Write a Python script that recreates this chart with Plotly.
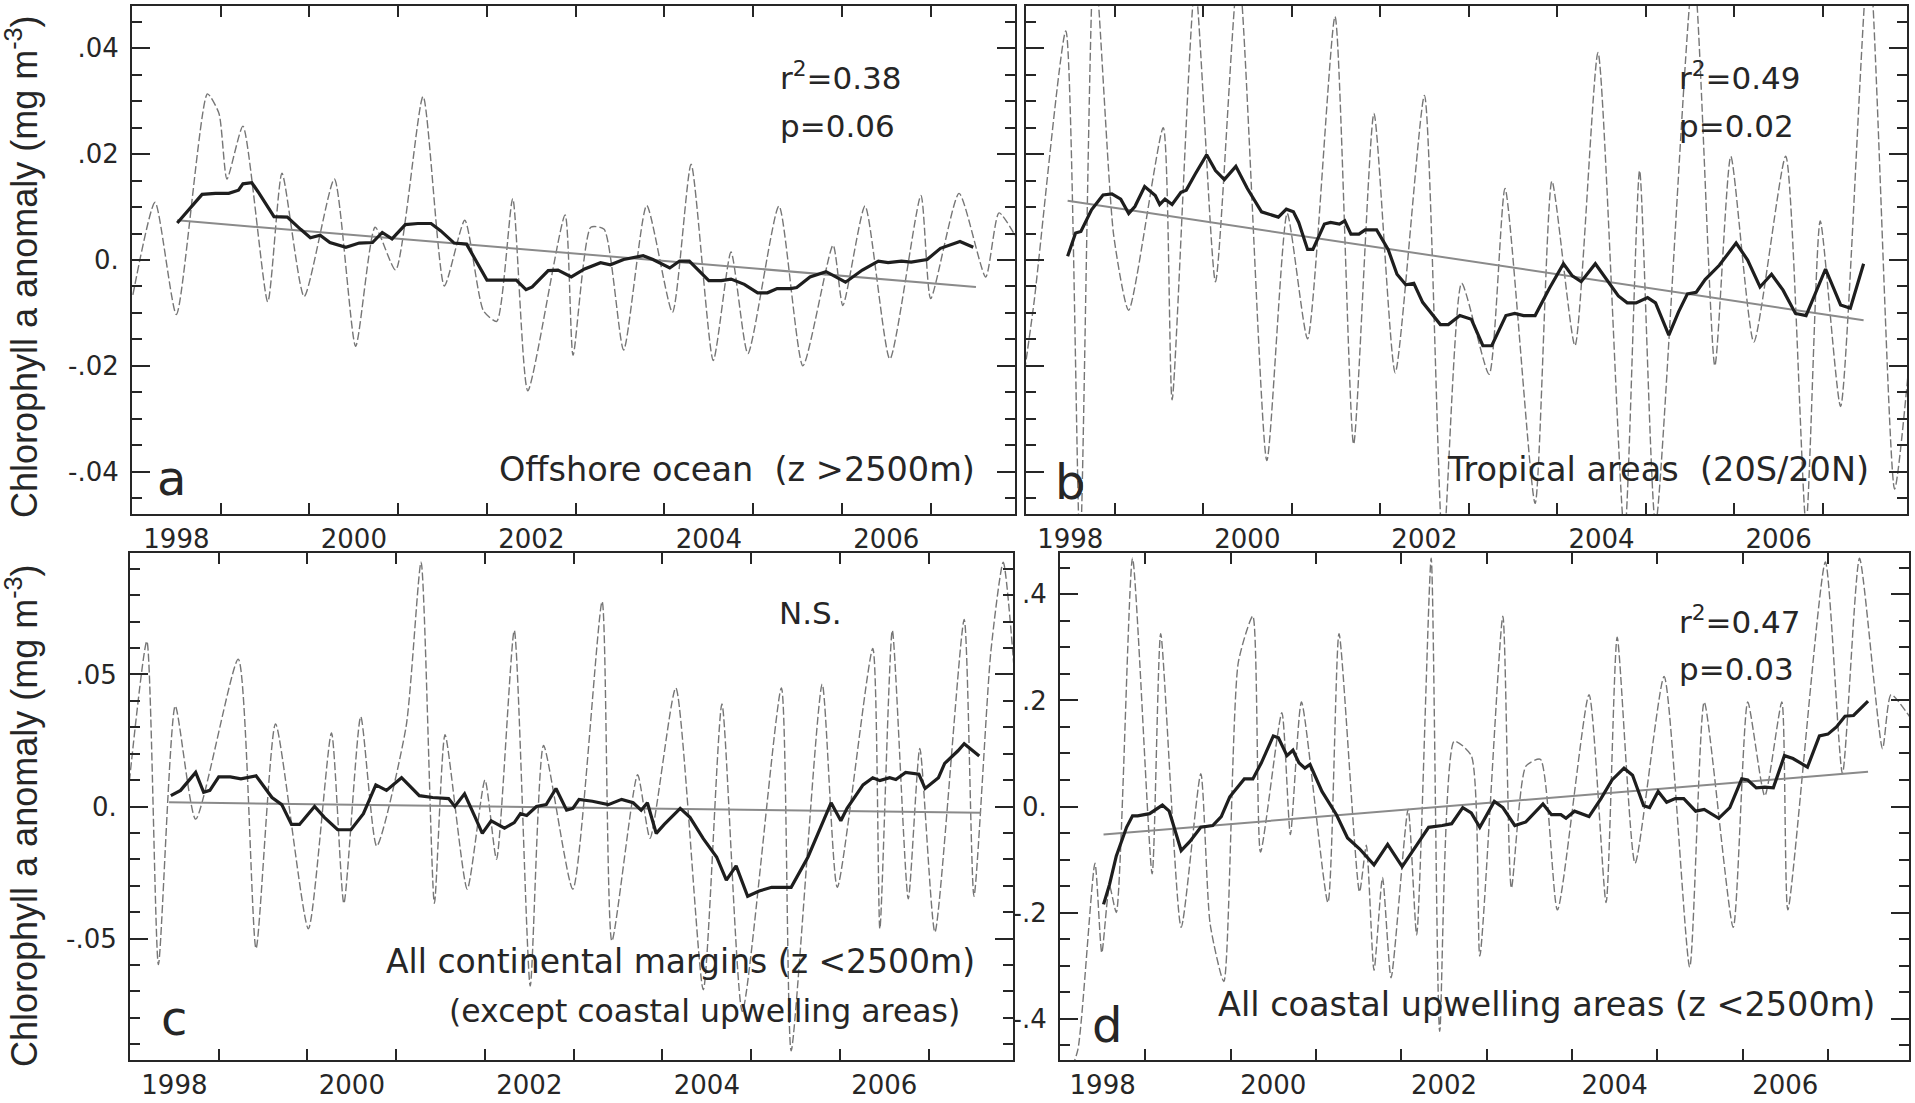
import plotly.graph_objects as go


# ── Panel a: offshore ocean ───────────────────────────────────────────────────

A_RAW_T = [1998.01, 1998.26, 1998.50, 1998.85, 1998.98, 1999.07, 1999.25, 1999.53, 1999.69, 1999.94,
           2000.28, 2000.52, 2000.74, 2000.97, 2001.28, 2001.52, 2001.75, 2001.96, 2002.11, 2002.29,
           2002.46, 2002.88, 2002.97, 2003.17, 2003.32, 2003.54, 2003.80, 2004.09, 2004.30, 2004.55,
           2004.75, 2004.94, 2005.29, 2005.56, 2005.90, 2006.01, 2006.26, 2006.54, 2006.89, 2007.00,
           2007.32, 2007.62, 2007.77, 2007.99]
A_RAW_V = [-0.0066, 0.0109, -0.0103, 0.0314, 0.0277, 0.0153, 0.0253, -0.0079, 0.0164, -0.0069,
           0.0153, -0.0163, 0.0062, -0.0019, 0.0309, -0.0049, 0.0075, -0.0096, -0.0116, 0.0116,
           -0.0247, 0.0085, -0.0180, 0.0062, 0.0058, -0.0170, 0.0103, -0.0099, 0.0181, -0.0190,
           0.0015, -0.0177, 0.0102, -0.0200, 0.0028, -0.0086, 0.0102, -0.0187, 0.0122, -0.0073,
           0.0126, -0.0032, 0.0089, 0.0035]
A_MEAN_T = [1998.51, 1998.79, 1998.94, 1999.09, 1999.20, 1999.25, 1999.35, 1999.42, 1999.60, 1999.75,
            1999.90, 2000.01, 2000.12, 2000.23, 2000.41, 2000.56, 2000.71, 2000.82, 2000.93, 2001.08,
            2001.22, 2001.37, 2001.48, 2001.63, 2001.77, 2002.00, 2002.33, 2002.44, 2002.51, 2002.69,
            2002.80, 2002.95, 2003.10, 2003.28, 2003.39, 2003.54, 2003.76, 2003.87, 2004.06, 2004.17,
            2004.28, 2004.50, 2004.64, 2004.75, 2004.90, 2005.05, 2005.16, 2005.27, 2005.42, 2005.49,
            2005.64, 2005.82, 2005.90, 2006.04, 2006.23, 2006.41, 2006.52, 2006.67, 2006.78, 2006.96,
            2007.11, 2007.33, 2007.48]
A_MEAN_V = [0.0070, 0.0124, 0.0126, 0.0126, 0.0132, 0.0144, 0.0146, 0.0129, 0.0082, 0.0081,
            0.0058, 0.0042, 0.0047, 0.0033, 0.0024, 0.0032, 0.0033, 0.0052, 0.0040, 0.0067,
            0.0069, 0.0069, 0.0055, 0.0032, 0.0030, -0.0038, -0.0038, -0.0056, -0.0051, -0.0020,
            -0.0019, -0.0032, -0.0017, -0.0005, -0.0009, 0.0001, 0.0008, 0.0001, -0.0015, -0.0002,
            -0.0002, -0.0039, -0.0039, -0.0036, -0.0046, -0.0062, -0.0062, -0.0054, -0.0054, -0.0052,
            -0.0032, -0.0022, -0.0029, -0.0042, -0.0019, -0.0002, -0.0005, -0.0002, -0.0004, 0.0001,
            0.0022, 0.0035, 0.0024]
A_TREND_T = [1998.51, 2007.51]
A_TREND_V = [0.0075, -0.0051]

# ── Panel b: tropical areas ───────────────────────────────────────────────────

B_RAW_T = [1997.95, 1998.09, 1998.45, 1998.61, 1998.77, 1998.99, 1999.16, 1999.55, 1999.65, 1999.91,
           2000.14, 2000.40, 2000.72, 2000.95, 2001.18, 2001.49, 2001.70, 2001.93, 2002.17, 2002.50,
           2002.71, 2002.92, 2003.23, 2003.41, 2003.75, 2003.94, 2004.20, 2004.46, 2004.76, 2004.93,
           2005.11, 2005.54, 2005.78, 2005.96, 2006.22, 2006.58, 2006.81, 2006.97, 2007.20, 2007.52,
           2007.81, 2007.98]
B_RAW_V = [-0.0250, -0.0081, 0.0433, -0.0550, 0.0580, 0.0047, -0.0095, 0.0250, -0.0264, 0.0520,
           -0.0041, 0.0550, -0.0379, 0.0088, -0.0149, 0.0460, -0.0348, 0.0277, -0.0213, 0.0311,
           -0.0550, -0.0044, -0.0216, 0.0135, -0.0460, 0.0149, -0.0162, 0.0392, -0.0520, 0.0169,
           -0.0500, 0.0550, -0.0200, 0.0196, -0.0155, 0.0196, -0.0500, 0.0074, -0.0277, 0.0580,
           -0.0433, -0.0183]
B_MEAN_T = [1998.47, 1998.56, 1998.62, 1998.74, 1998.87, 1998.97, 1999.07, 1999.16, 1999.23, 1999.34,
            1999.46, 1999.51, 1999.57, 1999.65, 1999.75, 1999.81, 1999.91, 2000.04, 2000.14, 2000.24,
            2000.37, 2000.50, 2000.66, 2000.79, 2000.85, 2000.94, 2001.02, 2001.08, 2001.18, 2001.24,
            2001.37, 2001.44, 2001.54, 2001.60, 2001.67, 2001.76, 2001.83, 2001.96, 2002.09, 2002.19,
            2002.29, 2002.38, 2002.48, 2002.68, 2002.77, 2002.90, 2003.03, 2003.16, 2003.26, 2003.42,
            2003.52, 2003.62, 2003.75, 2003.91, 2004.07, 2004.17, 2004.27, 2004.43, 2004.56, 2004.69,
            2004.79, 2004.89, 2005.02, 2005.11, 2005.26, 2005.37, 2005.47, 2005.57, 2005.67, 2005.83,
            2006.02, 2006.15, 2006.29, 2006.42, 2006.55, 2006.69, 2006.81, 2007.03, 2007.20, 2007.31,
            2007.46]
B_MEAN_V = [0.0007, 0.0051, 0.0054, 0.0095, 0.0123, 0.0125, 0.0115, 0.0088, 0.0101, 0.0139,
            0.0122, 0.0105, 0.0115, 0.0105, 0.0128, 0.0132, 0.0162, 0.0199, 0.0169, 0.0152,
            0.0177, 0.0135, 0.0091, 0.0085, 0.0081, 0.0096, 0.0091, 0.0071, 0.0020, 0.0020,
            0.0068, 0.0071, 0.0068, 0.0074, 0.0049, 0.0049, 0.0057, 0.0057, 0.0020, -0.0027,
            -0.0047, -0.0044, -0.0080, -0.0122, -0.0122, -0.0105, -0.0112, -0.0162, -0.0162, -0.0105,
            -0.0101, -0.0105, -0.0105, -0.0054, -0.0007, -0.0030, -0.0041, -0.0007, -0.0037, -0.0068,
            -0.0081, -0.0081, -0.0071, -0.0081, -0.0142, -0.0098, -0.0064, -0.0061, -0.0037, -0.0010,
            0.0032, 0.0000, -0.0051, -0.0027, -0.0057, -0.0101, -0.0105, -0.0017, -0.0085, -0.0091,
            -0.0007]
B_TREND_T = [1998.47, 2007.46]
B_TREND_V = [0.0112, -0.0114]

# ── Panel c: continental margins ──────────────────────────────────────────────

C_RAW_T = [1997.98, 1998.19, 1998.32, 1998.51, 1998.74, 1999.22, 1999.42, 1999.64, 2000.01, 2000.27,
           2000.41, 2000.60, 2000.78, 2001.11, 2001.28, 2001.43, 2001.55, 2001.80, 2002.00, 2002.13,
           2002.33, 2002.51, 2002.66, 2002.99, 2003.32, 2003.43, 2003.72, 2003.86, 2004.15, 2004.46,
           2004.67, 2004.90, 2005.34, 2005.45, 2005.80, 2005.97, 2006.37, 2006.45, 2006.59, 2006.77,
           2006.90, 2007.07, 2007.40, 2007.51, 2007.70, 2007.84, 2007.99]
C_RAW_V = [0.0054, 0.0626, -0.0599, 0.0381, -0.0048, 0.0558, -0.0538, 0.0313, -0.0463, 0.0279,
           -0.0367, 0.0340, -0.0150, 0.0300, 0.0925, -0.0367, 0.0272, -0.0313, 0.0100, -0.0200,
           0.0667, -0.0680, 0.0231, -0.0313, 0.0776, -0.0510, 0.0120, -0.0120, 0.0449, -0.0694,
           0.0388, -0.0776, 0.0449, -0.0925, 0.0463, -0.0306, 0.0599, -0.0463, 0.0667, -0.0350,
           0.0220, -0.0476, 0.0708, -0.0340, 0.0585, 0.0925, 0.0400]
C_MEAN_T = [1998.46, 1998.57, 1998.74, 1998.83, 1998.90, 1999.00, 1999.13, 1999.25, 1999.42, 1999.60,
            1999.71, 1999.82, 1999.91, 2000.08, 2000.19, 2000.34, 2000.49, 2000.63, 2000.77, 2000.89,
            2001.06, 2001.26, 2001.41, 2001.59, 2001.66, 2001.77, 2001.89, 2001.97, 2002.07, 2002.22,
            2002.33, 2002.40, 2002.47, 2002.58, 2002.69, 2002.80, 2002.92, 2002.99, 2003.06, 2003.21,
            2003.39, 2003.54, 2003.67, 2003.76, 2003.83, 2003.93, 2004.02, 2004.20, 2004.31, 2004.46,
            2004.61, 2004.72, 2004.83, 2004.96, 2005.09, 2005.23, 2005.45, 2005.64, 2005.90, 2006.01,
            2006.08, 2006.26, 2006.37, 2006.45, 2006.56, 2006.63, 2006.74, 2006.89, 2006.96, 2007.11,
            2007.18, 2007.33, 2007.40, 2007.57]
C_MEAN_V = [0.0041, 0.0061, 0.0129, 0.0054, 0.0061, 0.0112, 0.0112, 0.0105, 0.0116, 0.0034,
            0.0007, -0.0068, -0.0068, 0.0000, -0.0041, -0.0088, -0.0088, -0.0027, 0.0082, 0.0061,
            0.0109, 0.0041, 0.0034, 0.0030, 0.0000, 0.0048, -0.0041, -0.0102, -0.0054, -0.0082,
            -0.0061, -0.0027, -0.0034, 0.0000, 0.0007, 0.0068, -0.0014, -0.0007, 0.0027, 0.0020,
            0.0007, 0.0027, 0.0014, -0.0014, 0.0014, -0.0102, -0.0068, -0.0007, -0.0041, -0.0122,
            -0.0191, -0.0279, -0.0225, -0.0340, -0.0320, -0.0306, -0.0306, -0.0191, 0.0014, -0.0054,
            -0.0007, 0.0082, 0.0109, 0.0098, 0.0109, 0.0102, 0.0129, 0.0122, 0.0068, 0.0109,
            0.0163, 0.0211, 0.0238, 0.0191]
C_TREND_T = [1998.44, 2007.59]
C_TREND_V = [0.0016, -0.0024]

# ── Panel d: coastal upwelling ────────────────────────────────────────────────

D_RAW_T = [1998.10, 1998.21, 1998.41, 1998.49, 1998.58, 1998.66, 1998.85, 1999.08, 1999.18, 1999.42,
           1999.65, 1999.76, 1999.92, 2000.09, 2000.26, 2000.35, 2000.60, 2000.70, 2000.83, 2001.14,
           2001.27, 2001.51, 2001.59, 2001.68, 2001.78, 2001.88, 2002.08, 2002.18, 2002.35, 2002.45,
           2002.62, 2002.82, 2002.92, 2003.19, 2003.29, 2003.46, 2003.63, 2003.83, 2004.20, 2004.40,
           2004.53, 2004.74, 2005.08, 2005.38, 2005.55, 2005.89, 2006.06, 2006.26, 2006.46, 2006.53,
           2006.97, 2007.17, 2007.37, 2007.64, 2007.74, 2007.98]
D_RAW_V = [-0.510, -0.458, -0.107, -0.276, -0.150, -0.200, 0.468, -0.127, 0.326, -0.228,
           0.062, -0.222, -0.330, 0.272, 0.359, -0.086, 0.177, -0.053, 0.197, -0.181,
           0.326, -0.161, -0.073, -0.309, -0.134, -0.323, -0.005, -0.242, 0.468, -0.424,
           0.123, 0.096, -0.282, 0.359, -0.154, 0.076, 0.089, -0.195, 0.211, -0.181,
           0.319, -0.107, 0.245, -0.303, 0.197, -0.228, 0.197, 0.020, 0.197, -0.195,
           0.461, 0.062, 0.468, 0.109, 0.211, 0.164]
D_MEAN_T = [1998.51, 1998.58, 1998.66, 1998.78, 1998.85, 1998.91, 1999.05, 1999.15, 1999.20, 1999.28,
            1999.42, 1999.52, 1999.65, 1999.79, 1999.89, 1999.99, 2000.16, 2000.26, 2000.36, 2000.50,
            2000.56, 2000.66, 2000.73, 2000.80, 2000.87, 2000.93, 2001.07, 2001.24, 2001.37, 2001.51,
            2001.68, 2001.84, 2002.01, 2002.18, 2002.32, 2002.48, 2002.59, 2002.72, 2002.82, 2002.92,
            2003.09, 2003.19, 2003.33, 2003.46, 2003.66, 2003.76, 2003.87, 2003.93, 2004.03, 2004.20,
            2004.34, 2004.47, 2004.61, 2004.71, 2004.84, 2004.91, 2005.01, 2005.11, 2005.21, 2005.31,
            2005.45, 2005.55, 2005.72, 2005.85, 2005.99, 2006.06, 2006.16, 2006.26, 2006.36, 2006.49,
            2006.59, 2006.76, 2006.90, 2007.00, 2007.10, 2007.20, 2007.30, 2007.47]
D_MEAN_V = [-0.1845, -0.1473, -0.0932, -0.0392, -0.0176, -0.0176, -0.0135, -0.0020, 0.0027, -0.0088,
            -0.0831, -0.0662, -0.0392, -0.0358, -0.0189, 0.0182, 0.0520, 0.0520, 0.0824, 0.1331,
            0.1297, 0.0959, 0.1061, 0.0824, 0.0723, 0.0791, 0.0284, -0.0155, -0.0595, -0.0797,
            -0.1101, -0.0716, -0.1135, -0.0730, -0.0392, -0.0358, -0.0324, -0.0020, -0.0122, -0.0392,
            0.0095, -0.0020, -0.0358, -0.0291, 0.0047, -0.0155, -0.0155, -0.0223, -0.0088, -0.0189,
            0.0149, 0.0500, 0.0723, 0.0588, 0.0014, -0.0020, 0.0284, 0.0081, 0.0149, 0.0149,
            -0.0088, -0.0054, -0.0223, -0.0020, 0.0520, 0.0500, 0.0351, 0.0365, 0.0351, 0.0959,
            0.0905, 0.0743, 0.1331, 0.1365, 0.1500, 0.1703, 0.1716, 0.1987]
D_TREND_T = [1998.51, 2007.47]
D_TREND_V = [-0.0527, 0.0655]

# ── Axis labels ───────────────────────────────────────────────────────────────

LABEL_YEARS = [1998, 2000, 2002, 2004, 2006]
TICK_YEARS = [1999, 2000, 2001, 2002, 2003, 2004, 2005, 2006, 2007]
AB_TICKS, AB_LABELS = [-0.04, -0.02, 0.0, 0.02, 0.04], ["-.04", "-.02", "0.", ".02", ".04"]
C_TICKS, C_LABELS = [-0.05, 0.0, 0.05], ["-.05", "0.", ".05"]
D_TICKS, D_LABELS = [-0.4, -0.2, 0.0, 0.2, 0.4], ["-.4", "-.2", "0.", ".2", ".4"]

Y_TITLE = "Chlorophyll a anomaly (mg m<sup>-3</sup>)"

# ── Styling ───────────────────────────────────────────────────────────────────

INK = "#262626"
FONT = "DejaVu Sans"
TICK_FONT = dict(family=FONT, size=26, color=INK)
X_RANGE = [1998.0, 2007.95]
W, H = 1915, 1103


def px_dom(a, b, total):
    """Pixel span -> paper fraction."""
    return [a / total, b / total]


def py_dom(top, bottom):
    return [1 - bottom / H, 1 - top / H]


def x_axis(left, right, anchor):
    return dict(domain=px_dom(left, right, W), anchor=anchor, range=X_RANGE,
                showline=True, linecolor=INK, linewidth=2, mirror="ticks",
                tickmode="array", tickvals=[y + 0.5 for y in LABEL_YEARS],
                ticktext=[str(y) for y in LABEL_YEARS], ticks="",
                tickfont=TICK_FONT, ticklabelstandoff=1,
                showgrid=False, zeroline=False,
                minor=dict(tickmode="array", tickvals=TICK_YEARS, ticks="inside",
                           ticklen=11, tickwidth=2, tickcolor=INK, showgrid=False))


def y_axis(top, bottom, anchor, rng, ticks, labels, minor_vals, show=True):
    return dict(domain=py_dom(top, bottom), anchor=anchor, range=rng,
                showline=True, linecolor=INK, linewidth=2, mirror="ticks",
                tickmode="array", tickvals=ticks, ticktext=labels,
                ticks="inside", ticklen=18, tickwidth=2, tickcolor=INK,
                showticklabels=show, tickfont=TICK_FONT, ticklabelstandoff=6,
                showgrid=False, zeroline=False,
                minor=dict(tickmode="array", tickvals=minor_vals, ticks="inside",
                           ticklen=10, tickwidth=2, tickcolor=INK, showgrid=False))


def add_panel(fig, n, raw_t, raw_v, mean_t, mean_v, trend_t, trend_v):
    """Dashed monthly anomaly, running mean and linear trend for one panel."""
    xa, ya = ("x", "y") if n == 1 else (f"x{n}", f"y{n}")
    fig.add_trace(go.Scatter(x=raw_t, y=raw_v, xaxis=xa, yaxis=ya, mode="lines",
                             line=dict(color="#767676", width=1.4, dash="8px,3px",
                                       shape="spline", smoothing=0.6)))
    fig.add_trace(go.Scatter(x=trend_t, y=trend_v, xaxis=xa, yaxis=ya, mode="lines",
                             line=dict(color="#8a8a8a", width=2)))
    fig.add_trace(go.Scatter(x=mean_t, y=mean_v, xaxis=xa, yaxis=ya, mode="lines",
                             line=dict(color="#1e1e1e", width=3.2)))


def note(text, xref, yref, x, y, size, anchor="left"):
    return dict(text=text, xref=f"{xref} domain", yref=f"{yref} domain", x=x, y=y,
                xanchor=anchor, yanchor="middle", showarrow=False,
                font=dict(family=FONT, size=size, color=INK))


minor_ab = [round(-0.045 + 0.005 * i, 3) for i in range(19)]
minor_c = [round(-0.09 + 0.01 * i, 2) for i in range(19)]
minor_d = [round(-0.45 + 0.05 * i, 2) for i in range(19)]

fig = go.Figure()
add_panel(fig, 1, A_RAW_T, A_RAW_V, A_MEAN_T, A_MEAN_V, A_TREND_T, A_TREND_V)
add_panel(fig, 2, B_RAW_T, B_RAW_V, B_MEAN_T, B_MEAN_V, B_TREND_T, B_TREND_V)
add_panel(fig, 3, C_RAW_T, C_RAW_V, C_MEAN_T, C_MEAN_V, C_TREND_T, C_TREND_V)
add_panel(fig, 4, D_RAW_T, D_RAW_V, D_MEAN_T, D_MEAN_V, D_TREND_T, D_TREND_V)

annotations = [
    note("r<sup>2</sup>=0.38", "x", "y", 0.732, 0.862, 31),
    note("p=0.06", "x", "y", 0.732, 0.764, 31),
    note("Offshore ocean  (z >2500m)", "x", "y", 0.957, 0.087, 33.5, "right"),
    note("a", "x", "y", 0.026, 0.070, 48),
    note("r<sup>2</sup>=0.49", "x2", "y2", 0.739, 0.862, 31),
    note("p=0.02", "x2", "y2", 0.739, 0.764, 31),
    note("Tropical areas  (20S/20N)", "x2", "y2", 0.959, 0.087, 33.5, "right"),
    note("b", "x2", "y2", 0.031, 0.063, 48),
    note("N.S.", "x3", "y3", 0.733, 0.882, 31),
    note("All continental margins (z <2500m)", "x3", "y3", 0.959, 0.195, 33, "right"),
    note("(except coastal upwelling areas)", "x3", "y3", 0.942, 0.097, 31.5, "right"),
    note("c", "x3", "y3", 0.033, 0.082, 48),
    note("r<sup>2</sup>=0.47", "x4", "y4", 0.727, 0.868, 31),
    note("p=0.03", "x4", "y4", 0.727, 0.771, 31),
    note("All coastal upwelling areas (z <2500m)", "x4", "y4", 0.962, 0.110, 33.5, "right"),
    note("d", "x4", "y4", 0.035, 0.069, 48),
]
for yc in (267, 816):
    annotations.append(dict(text=Y_TITLE, xref="paper", yref="paper", x=22 / W, y=1 - yc / H,
                            xanchor="center", yanchor="middle", textangle=-90, showarrow=False,
                            font=dict(family="Liberation Sans", size=36, color=INK)))

fig.update_layout(
    width=W, height=H, autosize=False,
    margin=dict(l=0, r=0, t=0, b=0),
    paper_bgcolor="white", plot_bgcolor="rgba(0,0,0,0)",
    showlegend=False,
    xaxis=x_axis(132, 1015, "y"),
    yaxis=y_axis(6, 514, "x", [-0.048, 0.048], AB_TICKS, AB_LABELS, minor_ab),
    xaxis2=x_axis(1026, 1907, "y2"),
    yaxis2=y_axis(6, 514, "x2", [-0.048, 0.048], AB_TICKS, AB_LABELS, minor_ab, show=False),
    xaxis3=x_axis(130, 1013, "y3"),
    yaxis3=y_axis(553, 1060, "x3", [-0.096, 0.096], C_TICKS, C_LABELS, minor_c),
    xaxis4=x_axis(1060, 1909, "y4"),
    yaxis4=y_axis(553, 1060, "x4", [-0.478, 0.478], D_TICKS, D_LABELS, minor_d),
    annotations=annotations,
)

# page body has a default 8px margin; drop it so the figure sits at the window origin
fig.write_html("out.html", config={"displayModeBar": False},
               post_script="document.body.style.margin='0px';")
